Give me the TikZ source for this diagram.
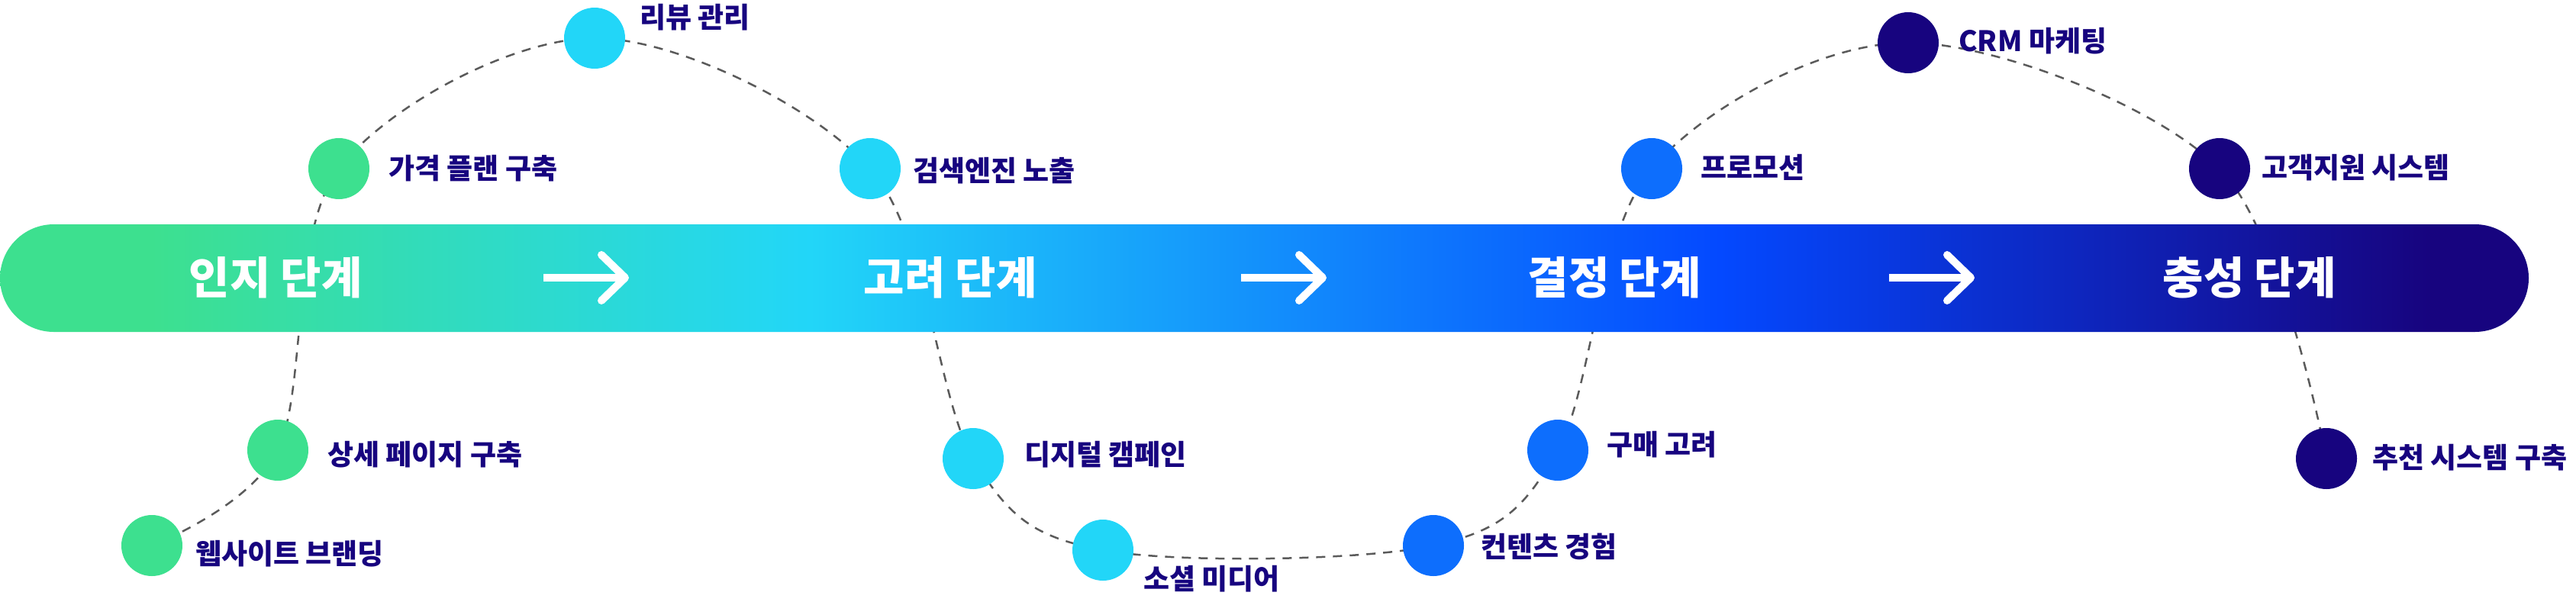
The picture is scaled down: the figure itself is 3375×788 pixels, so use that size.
\documentclass[tikz,border=0pt]{standalone}
\usepackage{fontspec}
\setmainfont{Noto Sans CJK KR}
\usetikzlibrary{positioning}

\definecolor{cgreen}{HTML}{3DE08F}
\definecolor{ccyan}{HTML}{22D6F8}
\definecolor{cblue}{HTML}{0D6EFD}
\definecolor{cbarblue}{HTML}{0449FF}
\definecolor{cnavy}{HTML}{17047F}
\definecolor{clink}{HTML}{5A5A5A}

\pgfdeclarehorizontalshading{stagebar}{100bp}{color(0bp)=(cgreen); color(28bp)=(cgreen); color(41bp)=(ccyan); color(59bp)=(cbarblue); color(73bp)=(cnavy); color(100bp)=(cnavy)}

\tikzset{
  dot/.style={circle, minimum size=80pt, inner sep=0pt},
  lbl/.style={anchor=west, inner sep=0pt, text=cnavy, font=\fontsize{37}{40}\selectfont\bfseries},
  stage/.style={inner sep=0pt, text=white, font=\fontsize{58}{60}\selectfont\bfseries},
  flow/.style={white, line width=10pt, line cap=round, line join=round},
  link/.style={clink, line width=2.5pt, dash pattern=on 12pt off 10pt}
}

\begin{document}
\begin{tikzpicture}[x=1pt,y=-1pt]
\useasboundingbox (0,0) rectangle (3375,788);
\coordinate (web) at (199,715);
\coordinate (detail) at (364,590);
\coordinate (price) at (444,221);
\coordinate (review) at (779,50);
\coordinate (search) at (1140,221);
\coordinate (digital) at (1275,601);
\coordinate (social) at (1445,721);
\coordinate (content) at (1878,715);
\coordinate (purchase) at (2041,590);
\coordinate (promo) at (2164,221);
\coordinate (crm) at (2500,56);
\coordinate (support) at (2908,221);
\coordinate (recommend) at (3048,601);
\draw[link] plot[smooth, tension=0.55] coordinates {(web) (detail) (price) (review) (search) (digital) (social) (content) (purchase) (promo) (crm) (support) (recommend)};
\path[shading=stagebar, rounded corners=70.5pt] (0,294) rectangle (3313,435);
\foreach \x in {712,1626,2475}{
  \draw[flow, line cap=butt] (\x,364) -- (\x+106,364);
  \draw[flow] (\x+76,334) -- (\x+107,364) -- (\x+76,394);
}
\node[stage] (s1) at (361,364) {인지 단계};
\node[stage] (s2) at (1245,364) {고려 단계};
\node[stage] (s3) at (2115,364) {결정 단계};
\node[stage] (s4) at (2947,364) {충성 단계};
\node[dot, fill=cgreen] (c-web) at (web) {};
\node[dot, fill=cgreen] (c-detail) at (detail) {};
\node[dot, fill=cgreen] (c-price) at (price) {};
\node[dot, fill=ccyan] (c-review) at (review) {};
\node[dot, fill=ccyan] (c-search) at (search) {};
\node[dot, fill=ccyan] (c-digital) at (digital) {};
\node[dot, fill=ccyan] (c-social) at (social) {};
\node[dot, fill=cblue] (c-content) at (content) {};
\node[dot, fill=cblue] (c-purchase) at (purchase) {};
\node[dot, fill=cblue] (c-promo) at (promo) {};
\node[dot, fill=cnavy] (c-crm) at (crm) {};
\node[dot, fill=cnavy] (c-support) at (support) {};
\node[dot, fill=cnavy] (c-recommend) at (recommend) {};
\node[lbl] (t-web) at (256,726) {웹사이트 브랜딩};
\node[lbl] (t-detail) at (429,596) {상세 페이지 구축};
\node[lbl] (t-price) at (509,221) {가격 플랜 구축};
\node[lbl] (t-review) at (838,23) {리뷰 관리};
\node[lbl] (t-search) at (1196,224) {검색엔진 노출};
\node[lbl] (t-digital) at (1342,596) {디지털 캠페인};
\node[lbl] (t-social) at (1498,759) {소셜 미디어};
\node[lbl] (t-content) at (1940,716) {컨텐츠 경험};
\node[lbl] (t-purchase) at (2105,583) {구매 고려};
\node[lbl] (t-promo) at (2228,219) {프로모션};
\node[lbl] (t-crm) at (2566,54) {CRM 마케팅};
\node[lbl] (t-support) at (2963,220) {고객지원 시스템};
\node[lbl] (t-recommend) at (3108,600) {추천 시스템 구축};
\end{tikzpicture}
\end{document}
